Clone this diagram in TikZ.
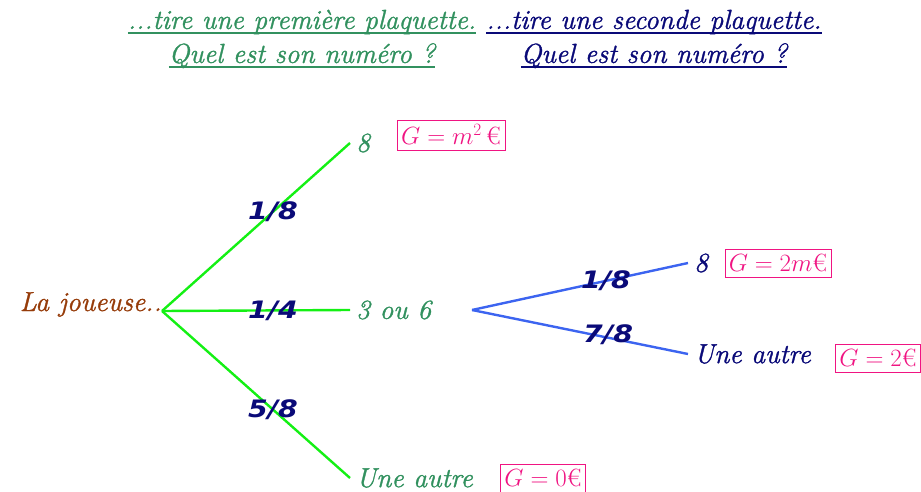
\documentclass[tikz,border=0pt]{standalone}
\usepackage{fontspec}
\usetikzlibrary{positioning}
\newfontfamily\probfont[FakeStretch=1.18]{DejaVu Sans}
\newfontfamily\ecrit{Latin Modern Roman}[FakeBold=1.2]
\newcommand\souligne[1]{\setbox0\hbox{#1}\rlap{\rule[-5pt]{\wd0}{2pt}}\box0}
\definecolor{vertT}{RGB}{50,145,95}
\definecolor{vertL}{RGB}{20,240,20}
\definecolor{bleuL}{RGB}{60,100,240}
\definecolor{marine}{RGB}{10,10,120}
\definecolor{brun}{RGB}{150,60,10}
\definecolor{rose}{RGB}{240,20,130}

\begin{document}
\begin{tikzpicture}[x=1pt, y=-1pt,
  every node/.style={font=\ecrit\fontsize{27.5}{34}\selectfont\itshape},
  leafA/.style={anchor=west, inner sep=6pt, text=vertT},
  leafB/.style={anchor=west, inner sep=6pt, text=marine},
  prob/.style={font=\probfont\fontsize{24}{28}\selectfont\bfseries\itshape, text=marine, inner sep=0pt},
  gain/.style={draw=rose, text=rose, font=\normalfont\fontsize{25}{28}\selectfont, inner xsep=4pt, inner ysep=5pt, fill=white},
  brA/.style={draw=vertL, line width=2.4pt},
  brB/.style={draw=bleuL, line width=2.4pt}]
  \useasboundingbox (0,0) rectangle (921,492);

  % titles
  \node[text=vertT, align=center] (titreA) at (302,39)
    {\souligne{...tire une première plaquette.}\\\souligne{Quel est son numéro ?}};
  \node[text=marine, align=center] (titreB) at (654,39)
    {\souligne{...tire une seconde plaquette.}\\\souligne{Quel est son numéro ?}};

  % first draw
  \node[text=brun, anchor=base east, inner sep=0pt] (joueuse) at (162,311) {La joueuse..};
  \node[leafA] (h8) at (350,143) {8};
  \node[leafA] (h36) at (350,310) {3 ou 6};
  \node[leafA] (hAutre) at (350,478) {Une autre};
  \draw[brA] (joueuse.base east) -- node[prob, pos=0.59] {1/8} (h8.west);
  \draw[brA] (joueuse.base east) -- node[prob, pos=0.59] {1/4} (h36.west);
  \draw[brA] (joueuse.base east) -- node[prob, pos=0.59] {5/8} (hAutre.west);

  % second draw
  \coordinate (noeud) at (472,310);
  \node[leafB] (b8) at (688,263) {8};
  \node[leafB] (bAutre) at (688,354) {Une autre};
  \draw[brB] (noeud) -- node[prob, pos=0.62] {1/8} (b8.west);
  \draw[brB] (noeud) -- node[prob, pos=0.63, yshift=3pt] {7/8} (bAutre.west);

  % gains
  \node[gain] (gA) at (451,135) {$G=m^2\,$€};
  \node[gain] (gB) at (778,263) {$G=2m$€};
  \node[gain] (gC) at (878,358) {$G=2$€};
  \node[gain] (gD) at (543,478) {$G=0$€};
\end{tikzpicture}
\end{document}
